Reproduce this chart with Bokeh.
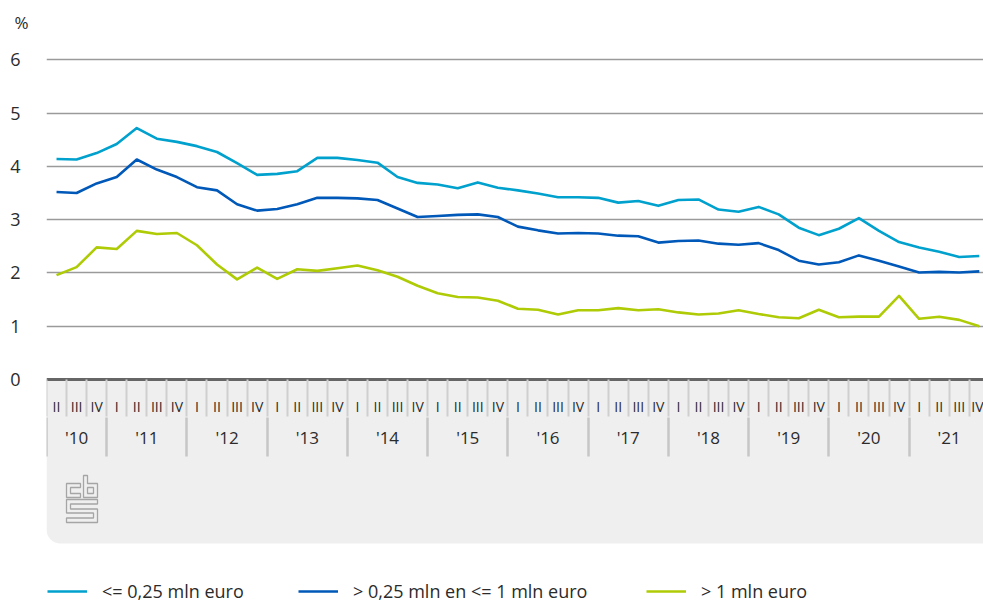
from bokeh.plotting import figure
from bokeh.models import Range1d, LinearAxis, FixedTicker, Legend, LegendItem, Quad
from bokeh.embed import file_html
from bokeh.resources import INLINE

# ---------------- data ----------------
years = ["'10", "'11", "'12", "'13", "'14", "'15", "'16", "'17", "'18", "'19", "'20", "'21"]
quarters_per_year = [["II", "III", "IV"]] + [["I", "II", "III", "IV"]] * 11

small = [4.14, 4.13, 4.25, 4.42, 4.72, 4.52, 4.46, 4.38, 4.27, 4.06, 3.84, 3.86,
         3.91, 4.16, 4.16, 4.12, 4.07, 3.80, 3.69, 3.66, 3.59, 3.70, 3.60, 3.55,
         3.49, 3.42, 3.42, 3.41, 3.32, 3.35, 3.26, 3.37, 3.38, 3.19, 3.15,
         3.24, 3.10, 2.85, 2.71, 2.83, 3.03, 2.79, 2.58, 2.48, 2.40, 2.30, 2.32]
medium = [3.52, 3.50, 3.68, 3.80, 4.13, 3.94, 3.80, 3.61, 3.55, 3.29, 3.17, 3.20,
          3.29, 3.41, 3.41, 3.40, 3.37, 3.21, 3.05, 3.07, 3.09, 3.10, 3.05, 2.87,
          2.80, 2.74, 2.75, 2.74, 2.70, 2.69, 2.57, 2.60, 2.61, 2.55, 2.53,
          2.56, 2.43, 2.23, 2.16, 2.20, 2.33, 2.23, 2.12, 2.01, 2.02, 2.01, 2.03]
large = [1.96, 2.11, 2.48, 2.45, 2.79, 2.73, 2.75, 2.52, 2.16, 1.88, 2.10, 1.89,
         2.07, 2.04, 2.09, 2.14, 2.05, 1.93, 1.76, 1.62, 1.55, 1.54, 1.48, 1.33,
         1.31, 1.22, 1.30, 1.30, 1.34, 1.30, 1.32, 1.26, 1.22, 1.24, 1.30,
         1.23, 1.17, 1.15, 1.31, 1.17, 1.18, 1.18, 1.57, 1.14, 1.18, 1.12, 1.00]
series_names = ["<= 0,25 mln euro", "> 0,25 mln en <= 1 mln euro", "> 1 mln euro"]
y_ticks = [0, 1, 2, 3, 4, 5, 6]

# ---------------- style ----------------
COLORS = ["#00a1cd", "#0058b8", "#afcb05"]
TXT = "#2b2b2b"
FONT = "Open Sans"
BAND = "#efefef"

W, H = 983, 603
BL, BT = 46, 38
Y1 = 6.4
SCALE_Y = 53.29
Y0 = Y1 - (H - BT) / SCALE_Y
X1 = 46.71
SCALE_X = (W - BL) / X1
ZERO_PX = BT + Y1 * SCALE_Y   # page px of the y = 0 line


def ry(py):
    """page px -> data y"""
    return -(py - ZERO_PX) / SCALE_Y


def lx(px):
    """page px -> data x"""
    return (px - BL) / SCALE_X


# category positions (index based)
q_labels = [q for qs in quarters_per_year for q in qs]
n = len(q_labels)
xs = [i + 0.5 for i in range(n)]
q_bounds = list(range(n + 1))
y_starts, y_centers = [], []
pos = 0
for qs in quarters_per_year:
    y_starts.append(pos)
    y_centers.append(pos + len(qs) / 2)
    pos += len(qs)

p = figure(width=W, height=H, output_backend="svg", toolbar_location=None,
           x_range=Range1d(0, X1), y_range=Range1d(Y0, Y1),
           x_axis_location=None, min_border_left=BL, min_border_right=0,
           min_border_top=BT, min_border_bottom=0, title="%")
p.outline_line_color = None
p.background_fill_color = "white"
p.border_fill_color = "white"

p.title.text_font = FONT
p.title.text_font_size = "17px"
p.title.text_font_style = "normal"
p.title.text_color = TXT
p.title.align = "left"
p.title.offset = -32
p.title.standoff = 9

# grid
p.xgrid.visible = False
p.ygrid.ticker = FixedTicker(ticks=[t for t in y_ticks if t > 0])
p.ygrid.grid_line_color = "#9a9a9a"
p.ygrid.grid_line_width = 1.5

# y axis
ya = p.yaxis[0]
ya.ticker = FixedTicker(ticks=y_ticks)
ya.axis_line_color = None
ya.major_tick_line_color = None
ya.minor_tick_line_color = None
ya.major_tick_out = 0
ya.minor_tick_out = 0
ya.major_label_standoff = 26
ya.major_label_text_font = FONT
ya.major_label_text_font_size = "18px"
ya.major_label_text_color = TXT

# axis band
band_bottom = ry(543)
qkw = {"border_radius": (0, 0, 0, 14)} if "border_radius" in Quad.properties() else {}
p.quad(left=[0], right=[X1 + 1], top=[0], bottom=[band_bottom], fill_color=BAND,
       line_color=None, **qkw)

# logo (decorative outline, page-pixel offsets within band)
logo_px = [
    [(80, 483), (66, 483), (66, 497), (80, 497), (80, 493), (70, 493), (70, 487), (80, 487)],
    [(83, 475), (87, 475), (87, 483), (97, 483), (97, 497), (83, 497)],
    [(87, 487), (93, 487), (93, 493), (87, 493)],
    [(97, 499), (66, 499), (66, 512.5), (93, 512.5), (93, 517.5), (66, 517.5), (66, 522),
     (97, 522), (97, 508.5), (70, 508.5), (70, 503.5), (97, 503.5)],
]
p.patches(xs=[[lx(a) for a, b in s] for s in logo_px], ys=[[ry(b) for a, b in s] for s in logo_px],
          fill_color=None, line_color="#a5a5a5", line_width=1.3)

# quarter axis
Q_SEP = 37
qaxis = LinearAxis(fixed_location=0,
                   ticker=FixedTicker(ticks=xs, minor_ticks=q_bounds),
                   major_label_overrides={float(x): l for x, l in zip(xs, q_labels)})
qaxis.axis_line_color = "#666666"
qaxis.axis_line_width = 3
qaxis.major_tick_line_color = None
qaxis.major_tick_out = 0
qaxis.major_tick_in = 0
qaxis.minor_tick_line_color = "#cfcfcf"
qaxis.minor_tick_line_width = 2
qaxis.minor_tick_out = Q_SEP
qaxis.minor_tick_in = 0
qaxis.major_label_standoff = 17 - Q_SEP
qaxis.major_label_text_font = FONT
qaxis.major_label_text_font_size = "14px"
qaxis.major_label_text_color = TXT
p.add_layout(qaxis, "below")

# year axis
Y_SEP = 39
yr_axis = LinearAxis(fixed_location=ry(417),
                     ticker=FixedTicker(ticks=y_centers, minor_ticks=y_starts),
                     major_label_overrides={float(c): l for c, l in zip(y_centers, years)})
yr_axis.axis_line_color = None
yr_axis.major_tick_line_color = None
yr_axis.major_tick_out = 0
yr_axis.major_tick_in = 0
yr_axis.minor_tick_line_color = "#c6c6c6"
yr_axis.minor_tick_line_width = 2.5
yr_axis.minor_tick_out = Y_SEP
yr_axis.minor_tick_in = 0
yr_axis.major_label_standoff = 8 - Y_SEP
yr_axis.major_label_text_font = FONT
yr_axis.major_label_text_font_size = "17px"
yr_axis.major_label_text_color = TXT
p.add_layout(yr_axis, "below")

# lines
renderers = []
for vals, c in zip([small, medium, large], COLORS):
    r = p.line(xs, vals, line_color=c, line_width=2.6, line_join="round")
    renderers.append(r)

# legends
leg_x = [1, 252, 600]
for name, r, lxp in zip(series_names, renderers, leg_x):
    leg = Legend(items=[LegendItem(label=name, renderers=[r])], location=(lxp, 0),
                 orientation="horizontal", glyph_width=40, glyph_height=20,
                 label_standoff=15, padding=0, margin=0, border_line_color=None,
                 background_fill_alpha=0, label_text_font=FONT,
                 label_text_font_size="18px", label_text_color=TXT)
    p.add_layout(leg)

open("out.html", "w").write(file_html(p, INLINE))
